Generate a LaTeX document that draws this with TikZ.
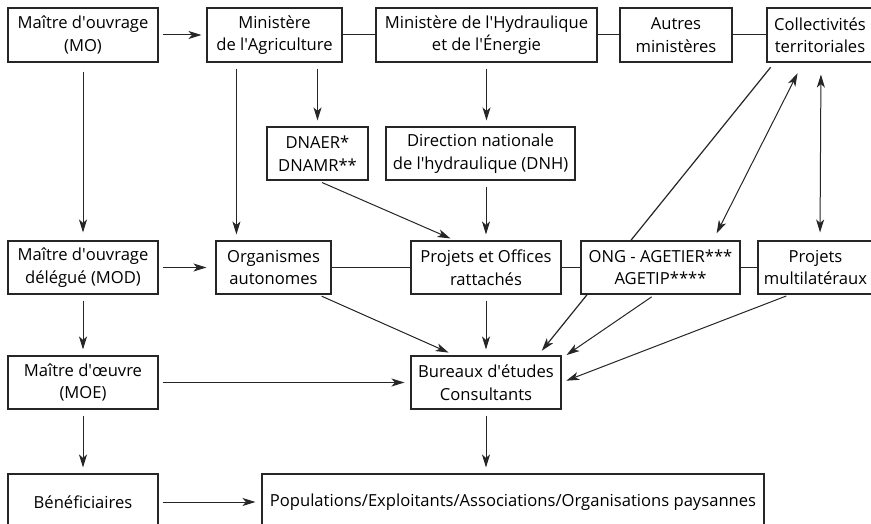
\documentclass[tikz,border=0pt]{standalone}
\usepackage{fontspec}
\setmainfont{Open Sans}
\usetikzlibrary{arrows.meta,positioning,calc}

\pgfdeclarelayer{back}
\pgfdeclarelayer{bg}
\pgfsetlayers{back,bg,main}

\newcommand{\ap}{\textquotesingle}

\tikzset{
	box/.style={draw=black!85, line width=1.1pt, fill=white, align=center,
		inner sep=0pt, minimum height=54pt, font=\fontsize{16.6}{22.5}\selectfont},
	link/.style={draw=black!85, line width=1pt},
	tip/.tip={Stealth[length=13pt,width=8pt,inset=3.5pt]},
	arr/.style={link, -tip, shorten >=6pt, shorten <=6pt},
	darr/.style={link, tip-tip, shorten >=6pt, shorten <=6pt}
}

\begin{document}
\begin{tikzpicture}[x=1pt, y=-1pt]
	
		\clip (0,0) rectangle (871,524);
		\begin{pgfonlayer}{back}
		\fill[white] (0,0) rectangle (871,524);
		\end{pgfonlayer}
		
		% First row
		\node[box, minimum width=150pt] (mo) at (83,35) {Maître d\ap ouvrage\\(MO)};
		\node[box, minimum width=135pt] (agri) at (274.5,35) {Ministère\\de l\ap Agriculture};
		\node[box, minimum width=221pt] (hydro) at (486.5,35) {Ministère de l\ap Hydraulique\\et de l\ap Énergie};
		\node[box, minimum width=112pt] (autres) at (676,35) {Autres\\ministères};
		\node[box, minimum width=106pt] (coll) at (820,35) {Collectivités\\territoriales};
		
		% Directions
		\node[box, minimum width=101pt, minimum height=53pt] (dnaer) at (317.5,153.5) {DNAER*\\DNAMR**};
		\node[box, minimum width=189pt, minimum height=53pt] (dnh) at (480.5,153.5) {Direction nationale\\de l\ap hydraulique (DNH)};
		
		% Third row
		\node[box, minimum width=150pt, minimum height=53pt] (mod) at (83,267.5) {Maître d\ap ouvrage\\délégué (MOD)};
		\node[box, minimum width=115pt, minimum height=53pt] (org) at (273.5,267.5) {Organismes\\autonomes};
		\node[box, minimum width=150pt, minimum height=53pt] (proj) at (486,267.5) {Projets et Offices\\rattachés};
		\node[box, minimum width=159pt, minimum height=53pt] (ong) at (660.5,267.5) {ONG - AGETIER***\\AGETIP****};
		\node[box, minimum width=115pt, minimum height=53pt] (multi) at (815.5,267.5) {Projets\\multilatéraux};
		
		% Fourth row
		\node[box, minimum width=150pt, minimum height=53pt] (moe) at (83,382.5) {Maître d\ap œuvre\\(MOE)};
		\node[box, minimum width=150pt, minimum height=53pt] (bur) at (486,382.5) {Bureaux d\ap études\\Consultants};
		
		% Last row
		\node[box, minimum width=150pt, minimum height=56pt] (benef) at (83,502) {Bénéficiaires};
		\node[box, minimum width=502pt, minimum height=56pt] (pop) at (513,502) {Populations/Exploitants/Associations/Organisations paysannes};
		
		\begin{pgfonlayer}{bg}
		% Plain links
		\draw[link] (agri) -- (hydro);
		\draw[link] (hydro) -- (autres);
		\draw[link] (autres) -- (coll);
		\draw[link] (org) -- (proj);
		\draw[link] (proj) -- (ong);
		\draw[link] (ong) -- (multi);
		
		% Horizontal arrows
		\draw[arr, shorten <=4pt, shorten >=5pt] (mo) -- (agri);
		\draw[arr, shorten <=4pt, shorten >=9pt] (mod) -- (org);
		\draw[arr, shorten <=4pt, shorten >=6pt] (moe) -- (bur);
		\draw[arr, shorten <=4pt, shorten >=6pt] (benef) -- (pop);
		
		% Vertical arrows
		\draw[arr, shorten <=9pt, shorten >=8pt] (mo) -- (mod);
		\draw[arr] (mod) -- (moe);
		\draw[arr] (moe) -- (benef);
		\draw[arr] ([xshift=30pt]agri.south west) -- ([xshift=30pt]agri.south west |- org.north);
		\draw[arr] (dnaer |- agri.south) -- (dnaer.north);
		\draw[arr] (hydro.south) -- (hydro.south |- dnh.north);
		\draw[arr] (proj |- dnh.south) -- (proj.north);
		\draw[arr] (proj) -- (bur);
		\draw[arr] (bur) -- (bur |- pop.north);
		
		% Diagonal arrows
		\draw[arr, shorten <=5pt, shorten >=5pt] (dnaer.south) -- ([xshift=-31pt]proj.north);
		\draw[arr, shorten <=4pt, shorten >=7pt] ([xshift=44.5pt]org.south) -- ([xshift=-31pt]bur.north);
		\draw[arr, line width=1.2pt, shorten <=6pt, shorten >=6pt] ([xshift=8pt]coll.south west) -- ([xshift=52pt]bur.north);
		\draw[darr, shorten <=8pt, shorten >=12pt] ([xshift=52.5pt]ong.north) -- ([xshift=-17pt]coll.south);
		\draw[darr, shorten <=8pt, shorten >=12pt] (multi.north -| coll.south) -- ([xshift=1pt]coll.south);
		\draw[arr, shorten <=4pt, shorten >=6pt] ([xshift=-5.5pt]ong.south) -- ([yshift=-3pt]bur.north east);
		\draw[arr, shorten <=4pt, shorten >=5pt] ([xshift=-25.5pt]multi.south) -- (bur.east);
		\end{pgfonlayer}
		
	\end{tikzpicture}
\end{document}
